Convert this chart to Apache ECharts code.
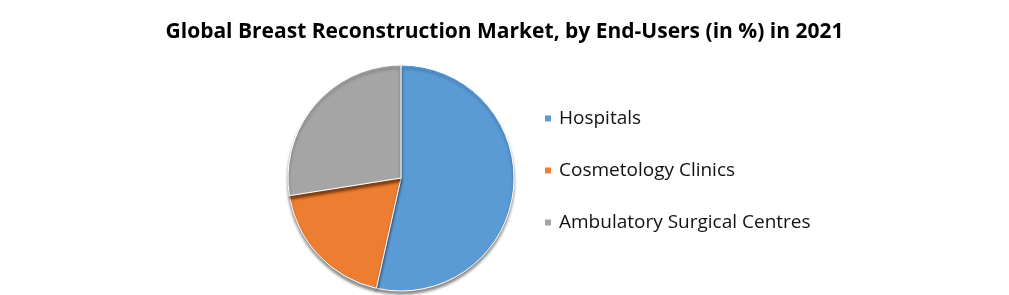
<!DOCTYPE html>
<html><head><meta charset="utf-8">
<script src="https://cdn.jsdelivr.net/npm/echarts@6/dist/echarts.min.js"></script>
<style>html,body{margin:0;padding:0;background:#fff}#c{width:1009px;height:295px}</style>
</head><body><div id="c"></div>
<script>
const categories = ["Hospitals", "Cosmetology Clinics", "Ambulatory Surgical Centres"];
const values = [53.5, 19, 27.5];
const colors = ["#5B9BD5", "#ED7D31", "#A5A5A5"];
const chart = echarts.init(document.getElementById('c'));
chart.setOption({
  animation: false,
  title: {
    text: "Global Breast Reconstruction Market, by End-Users (in %) in 2021",
    left: 'center', top: 17,
    textStyle: {fontFamily: 'Open Sans', fontWeight: 'bold', fontSize: 21, color: '#000'}
  },
  legend: {
    orient: 'vertical', left: 543, top: 109, padding: 0,
    itemWidth: 8, itemHeight: 8, itemGap: 33, icon: 'rect',
    textStyle: {fontFamily: 'Open Sans', fontSize: 19, color: '#111', padding: [0,0,0,2]},
    data: categories
  },
  series: [{
    type: 'pie', center: [401, 178], radius: 113,
    startAngle: 90, clockwise: true,
    label: {show: false}, labelLine: {show: false},
    itemStyle: {borderColor: '#fff', borderWidth: 1, shadowColor: 'rgba(0,0,0,0.45)', shadowBlur: 3, shadowOffsetY: 3},
    data: categories.map((n, i) => ({name: n, value: values[i], itemStyle: {color: colors[i]}}))
  }]
});
</script></body></html>
